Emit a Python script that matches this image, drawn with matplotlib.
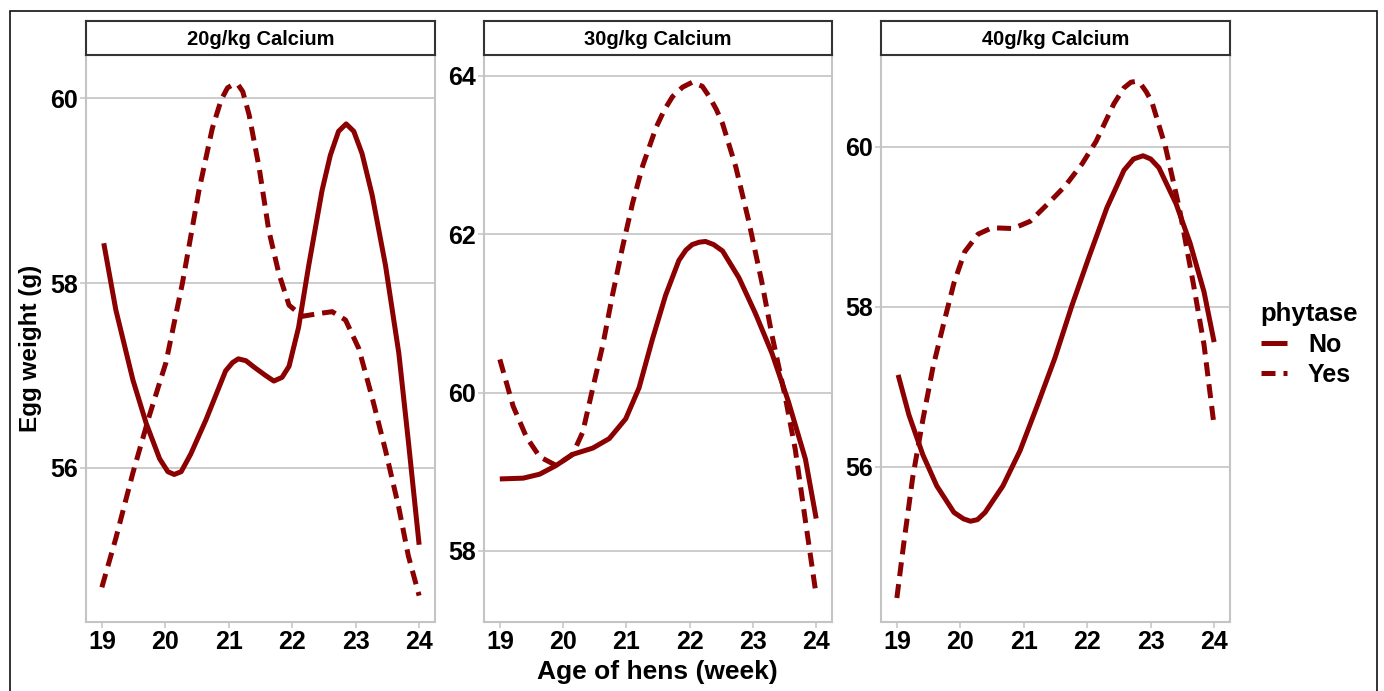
import numpy as np
import matplotlib
matplotlib.use("Agg")
import matplotlib.pyplot as plt
from matplotlib.patches import Rectangle
from matplotlib.lines import Line2D

plt.rcParams['font.family'] = ['Liberation Sans', 'DejaVu Sans']
plt.rcParams['font.weight'] = 'bold'

RED = '#8B0000'
GRID = '#C4C4C4'

panels = ['20g/kg Calcium', '30g/kg Calcium', '40g/kg Calcium']

# 20 g/kg
ca20_no_x = [19.03, 19.22, 19.49, 19.70, 19.91, 20.04, 20.14, 20.25, 20.40, 20.64, 20.95, 21.06,
             21.15, 21.27, 21.40, 21.58, 21.71, 21.84, 21.95, 22.10, 22.26, 22.47, 22.60, 22.73,
             22.85, 22.97, 23.10, 23.26, 23.47, 23.68, 23.83, 24.0]
ca20_no_y = [58.43, 57.71, 56.95, 56.48, 56.10, 55.96, 55.93, 55.96, 56.15, 56.52, 57.05, 57.14,
             57.18, 57.16, 57.09, 57.00, 56.94, 56.98, 57.10, 57.52, 58.19, 59.00, 59.38, 59.64,
             59.72, 59.64, 59.40, 58.95, 58.19, 57.24, 56.29, 55.17]
ca20_yes_x = [19.0, 19.22, 19.49, 19.75, 20.01, 20.27, 20.53, 20.74, 20.88, 20.98, 21.08, 21.15,
              21.22, 21.32, 21.48, 21.63, 21.79, 21.95, 22.16, 22.42, 22.63, 22.84, 23.05, 23.26,
              23.47, 23.68, 23.83, 24.0]
ca20_yes_y = [54.71, 55.24, 55.95, 56.57, 57.14, 58.00, 59.00, 59.67, 59.98, 60.11, 60.15, 60.14,
              60.07, 59.82, 59.24, 58.57, 58.10, 57.76, 57.64, 57.67, 57.69, 57.60, 57.29, 56.76,
              56.19, 55.57, 55.05, 54.62]

# 30 g/kg
ca30_no_x = [19.0, 19.37, 19.63, 19.89, 20.15, 20.47, 20.73, 20.99, 21.20, 21.41, 21.62, 21.83,
             21.94, 22.04, 22.15, 22.25, 22.38, 22.52, 22.78, 23.04, 23.30, 23.56, 23.83, 24.0]
ca30_no_y = [58.91, 58.92, 58.97, 59.08, 59.22, 59.30, 59.42, 59.67, 60.06, 60.67, 61.23, 61.67,
             61.80, 61.87, 61.90, 61.91, 61.87, 61.79, 61.45, 61.00, 60.50, 59.89, 59.16, 58.41]
ca30_yes_x = [19.0, 19.21, 19.42, 19.63, 19.89, 20.15, 20.31, 20.47, 20.63, 20.78, 20.94, 21.10,
              21.26, 21.47, 21.60, 21.73, 21.89, 22.04, 22.20, 22.31, 22.42, 22.52, 22.73, 22.93,
              23.14, 23.30, 23.51, 23.67, 23.83, 24.0]
ca30_yes_y = [60.42, 59.83, 59.44, 59.19, 59.08, 59.22, 59.50, 60.06, 60.61, 61.23, 61.84, 62.40,
              62.87, 63.35, 63.57, 63.74, 63.86, 63.92, 63.87, 63.74, 63.58, 63.40, 62.85, 62.18,
              61.40, 60.73, 59.95, 59.28, 58.38, 57.44]

# 40 g/kg
ca40_no_x = [19.02, 19.19, 19.41, 19.63, 19.90, 20.05, 20.16, 20.27, 20.39, 20.67, 20.94, 21.21,
             21.49, 21.76, 22.03, 22.31, 22.58, 22.73, 22.88, 23.00, 23.13, 23.40, 23.62, 23.84, 24.0]
ca40_no_y = [57.15, 56.65, 56.15, 55.76, 55.43, 55.35, 55.32, 55.34, 55.43, 55.76, 56.20, 56.76,
             57.36, 58.02, 58.63, 59.24, 59.71, 59.85, 59.89, 59.85, 59.74, 59.29, 58.80, 58.19, 57.56]
ca40_yes_x = [19.0, 19.11, 19.25, 19.41, 19.57, 19.74, 19.90, 20.07, 20.28, 20.50, 20.83, 21.10,
              21.38, 21.65, 21.92, 22.14, 22.42, 22.58, 22.69, 22.77, 22.85, 22.93, 23.02, 23.23,
              23.45, 23.67, 23.84, 24.0]
ca40_yes_y = [54.36, 55.05, 55.87, 56.59, 57.25, 57.80, 58.30, 58.69, 58.91, 58.99, 58.98, 59.07,
              59.29, 59.51, 59.79, 60.07, 60.54, 60.74, 60.81, 60.82, 60.78, 60.69, 60.56, 60.01,
              59.24, 58.30, 57.53, 56.51]

no_x = [ca20_no_x, ca30_no_x, ca40_no_x]
no_y = [ca20_no_y, ca30_no_y, ca40_no_y]
yes_x = [ca20_yes_x, ca30_yes_x, ca40_yes_x]
yes_y = [ca20_yes_y, ca30_yes_y, ca40_yes_y]

x_ticks = [19, 20, 21, 22, 23, 24]
y_ticks = [[56, 58, 60], [58, 60, 62, 64], [56, 58, 60]]
y_lims = [(54.335, 60.465), (57.103, 64.265), (54.06, 61.15)]

W, H = 1384, 691
fig = plt.figure(figsize=(W / 100, H / 100), dpi=100)

lefts = [86, 484, 881]
widths = [349, 348, 349]
p_bottom, p_top, s_top = 622, 55, 21

LW = 3.6
DASH = (0, (2.8, 1.6))

for i in range(3):
    ax = fig.add_axes([lefts[i] / W, (H - p_bottom) / H, widths[i] / W, (p_bottom - p_top) / H])
    ax.plot(no_x[i], no_y[i], color=RED, lw=LW, solid_capstyle='butt',
            solid_joinstyle='round', label='No')
    ax.plot(yes_x[i], yes_y[i], color=RED, lw=LW, ls=DASH, dash_capstyle='butt',
            dash_joinstyle='round', label='Yes')
    ax.set_xlim(18.75, 24.25)
    ax.set_ylim(*y_lims[i])
    ax.set_xticks(x_ticks)
    ax.set_yticks(y_ticks[i])
    ax.yaxis.grid(True, color=GRID, lw=1.2)
    ax.set_axisbelow(True)
    for s in ax.spines.values():
        s.set_color(GRID)
        s.set_linewidth(1.5)
    ax.tick_params(length=4, width=1.1, color=GRID, labelsize=18, pad=2)
    for lab in ax.get_xticklabels() + ax.get_yticklabels():
        lab.set_fontweight('bold')

    # strip
    sax = fig.add_axes([lefts[i] / W, (H - p_top) / H, widths[i] / W, (p_top - s_top) / H])
    sax.set_xticks([])
    sax.set_yticks([])
    for s in sax.spines.values():
        s.set_color('#333333')
        s.set_linewidth(1.5)
    sax.text(0.5, 0.47, panels[i], ha='center', va='center', fontsize=14.5, fontweight='bold',
             transform=sax.transAxes)

fig.text(31 / W, 1 - 348 / H, 'Egg weight (g)', rotation=90, ha='center', va='center',
         fontsize=17.5, fontweight='bold')
fig.text(657 / W, 1 - 672 / H, 'Age of hens (week)', ha='center', va='center',
         fontsize=19, fontweight='bold')

handles = [Line2D([], [], color=RED, lw=LW, solid_capstyle='butt'),
           Line2D([], [], color=RED, lw=LW, ls=DASH, dash_capstyle='butt')]
leg = fig.legend(handles, ['No', 'Yes'], title='phytase', loc='upper left',
                 bbox_to_anchor=(1238 / W, 1 - 280 / H), frameon=False,
                 handlelength=1.05, handletextpad=0.85, labelspacing=0.25,
                 prop={'size': 18, 'weight': 'bold'},
                 title_fontproperties={'size': 18.5, 'weight': 'bold'})
leg._legend_box.align = 'left'

# outer frame
fig.patches.append(Rectangle((10 / W, -0.2), (1377 - 10) / W, 1.2 - 11 / H,
                             transform=fig.transFigure, fill=False, ec='#111111', lw=1.2))

fig.savefig('out.png', dpi=100)
